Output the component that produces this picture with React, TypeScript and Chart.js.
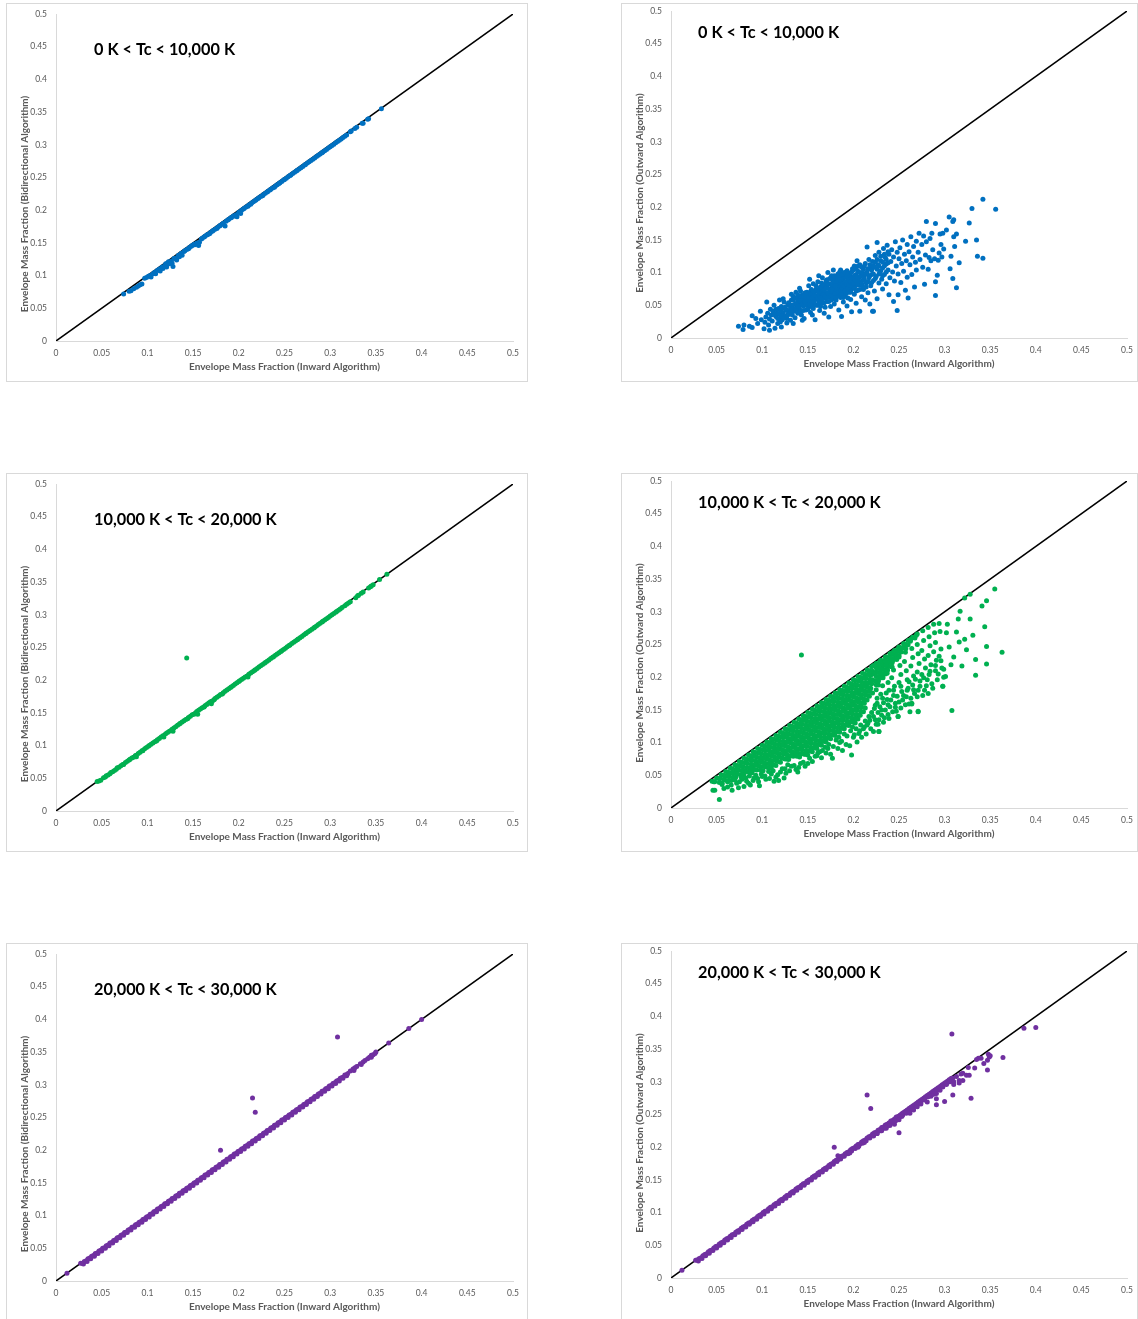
import React, { useEffect, useRef } from "react";
import { Chart, registerables } from "chart.js";

Chart.register(...registerables);

const FONT = "Lato, 'Open Sans', 'Liberation Sans', sans-serif";

// ---------- axis / text content ----------
const AXIS_MIN = 0;
const AXIS_MAX = 0.5;
const AXIS_STEP = 0.05;
const DIAGONAL = [0, 0, 0.5, 0.5];
const TITLE_X = "Envelope Mass Fraction (Inward Algorithm)";
const TITLE_Y_BIDIR = "Envelope Mass Fraction (Bidirectional Algorithm)";
const TITLE_Y_OUT = "Envelope Mass Fraction (Outward Algorithm)";
const RANGE_LABELS = ["0 K < Tc < 10,000 K", "10,000 K < Tc < 20,000 K", "20,000 K < Tc < 30,000 K"];
const SERIES_COLORS = ["#0070C0", "#00B050", "#7030A0"];

// ---------- data: flat [x, y, x, y, ...] pairs ----------
// 0 K < Tc < 10,000 K : inward vs bidirectional
const BLUE_BIDIR = [
  .074,.072, .080,.076, .082,.077, .085,.080, .088,.082, .090,.084, .092,.086, .094,.087, .097,.096, .099,.097,
  .101,.099, .103,.100, .104,.098, .106,.103, .108,.105, .109,.103, .111,.108, .113,.110, .114,.107, .116,.113,
  .117,.111, .119,.115, .120,.118, .121,.113, .123,.121, .124,.118, .126,.122, .127,.119, .128,.114, .129,.126,
  .131,.127, .132,.124, .134,.131, .135,.129, .137,.134, .138,.131, .140,.137, .141,.138, .143,.140, .145,.141,
  .146,.143, .148,.145, .149,.146, .151,.148, .152,.147, .154,.150, .155,.149, .157,.151, .156,.146, .159,.156,
  .160,.157, .162,.159, .163,.160, .165,.162, .166,.163, .168,.164, .169,.166, .171,.168, .172,.169, .174,.171,
  .176,.172, .177,.174, .179,.176, .180,.177, .182,.179, .183,.180, .185,.176, .186,.183, .188,.185, .189,.186,
  .191,.188, .192,.189, .194,.191, .195,.191, .197,.193, .198,.190, .200,.197, .201,.197, .203,.200, .202,.195,
  .205,.202, .206,.203, .208,.205, .210,.206, .211,.208, .213,.209, .214,.211, .216,.213, .218,.215, .219,.216,
  .221,.218, .222,.219, .224,.221, .226,.222, .227,.224, .229,.226, .231,.228, .232,.229, .234,.231, .235,.232,
  .237,.234, .239,.235, .240,.237, .242,.239, .244,.241, .245,.242, .247,.244, .249,.246, .250,.247, .252,.249,
  .254,.251, .256,.253, .257,.254, .259,.256, .261,.258, .263,.260, .264,.261, .266,.263, .268,.265, .270,.267,
  .272,.269, .273,.270, .275,.272, .277,.274, .279,.276, .281,.278, .283,.280, .285,.282, .287,.284, .289,.286,
  .291,.288, .292,.289, .294,.291, .296,.293, .298,.295, .300,.297, .302,.299, .304,.301, .306,.303, .308,.305,
  .310,.307, .312,.309, .314,.311, .316,.313, .318,.315, .322,.320, .323,.321, .327,.325, .329,.327, .335,.333,
  .336,.333, .341,.339, .342,.340, .356,.355,
];

// 0 K < Tc < 10,000 K : inward vs outward
const BLUE_OUT = [
  .074,.018, .079,.013, .080,.020, .086,.018, .089,.016, .089,.034, .093,.030, .098,.041, .095,.022, .099,.028,
  .102,.014, .103,.024, .104,.032, .105,.055, .106,.038, .107,.020, .108,.029, .109,.044, .110,.035, .108,.012,
  .111,.026, .112,.041, .113,.050, .114,.015, .115,.033, .116,.038, .117,.022, .118,.045, .119,.058, .119,.030, .113,.036,
  .121,.017, .121,.048, .122,.028, .123,.039, .124,.055, .125,.034, .126,.044, .127,.023, .128,.051, .129,.037, .123,.060, .127,.030, .120,.042,
  .131,.046, .131,.027, .132,.058, .133,.035, .134,.064, .135,.041, .136,.052, .136,.031, .137,.070, .138,.047, .139,.057, .139,.038, .134,.022, .132,.067,
  .140,.062, .141,.044, .142,.053, .142,.072, .143,.035, .144,.066, .145,.049, .146,.030, .146,.058, .147,.069, .148,.043, .148,.061, .149,.052, .144,.027, .141,.076,
  .150,.065, .151,.048, .151,.080, .152,.057, .153,.039, .153,.071, .154,.062, .155,.052, .156,.083, .156,.045, .157,.068, .158,.028, .158,.059, .159,.074, .155,.035, .152,.090,
  .160,.064, .161,.050, .161,.086, .162,.071, .163,.042, .163,.058, .164,.078, .165,.066, .166,.053, .166,.092, .167,.073, .168,.061, .168,.038, .169,.082, .169,.047, .162,.095,
  .170,.069, .171,.056, .171,.089, .172,.076, .173,.032, .173,.063, .174,.083, .175,.070, .175,.048, .176,.095, .177,.060, .177,.078, .178,.087, .179,.066, .179,.052, .172,.100, .178,.104,
  .180,.073, .181,.090, .181,.058, .182,.081, .183,.067, .183,.098, .184,.043, .184,.075, .185,.086, .186,.062, .186,.104, .187,.033, .187,.079, .188,.092, .189,.070, .189,.055, .185,.101,
  .190,.085, .191,.096, .191,.064, .192,.077, .193,.103, .193,.049, .194,.088, .195,.070, .195,.099, .196,.082, .197,.059, .197,.093, .198,.040, .198,.075, .199,.106, .199,.087,
  .200,.091, .201,.067, .201,.110, .202,.080, .203,.097, .203,.053, .204,.086, .205,.102, .205,.073, .206,.093, .207,.041, .207,.112, .208,.081, .209,.098, .209,.063, .204,.118,
  .210,.088, .211,.105, .211,.074, .212,.095, .213,.058, .213,.114, .214,.084, .215,.139, .215,.101, .216,.069, .217,.092, .217,.120, .218,.052, .219,.106, .219,.080, .221,.041,
  .220,.097, .221,.117, .222,.088, .223,.072, .223,.108, .224,.126, .225,.094, .226,.146, .226,.060, .227,.112, .228,.084, .228,.131, .229,.101, .222,.041,
  .230,.118, .231,.090, .232,.075, .232,.107, .233,.137, .234,.097, .235,.123, .236,.083, .236,.113, .237,.142, .238,.104, .239,.066, .239,.128,
  .240,.092, .241,.117, .242,.135, .243,.101, .244,.056, .244,.124, .245,.087, .246,.147, .247,.110, .248,.042, .248,.131, .249,.066, .249,.098,
  .250,.121, .251,.138, .252,.085, .253,.114, .254,.150, .255,.102, .256,.128, .257,.073, .258,.118, .259,.143, .260,.061, .259,.093,
  .261,.132, .262,.112, .263,.155, .264,.097, .265,.124, .266,.140, .267,.078, .268,.116, .269,.148, .269,.104,
  .271,.131, .272,.160, .273,.120, .275,.143, .276,.108, .277,.156, .278,.082, .279,.127, .280,.178, .280,.147,
  .282,.105, .283,.123, .284,.152, .285,.118, .286,.160, .287,.135, .289,.121, .290,.065, .290,.086, .290,.175,
  .292,.096, .293,.119, .294,.130, .295,.159, .296,.143, .297,.124, .298,.160, .299,.136,
  .302,.165, .305,.185, .306,.106, .307,.125, .309,.178, .309,.091, .310,.181, .310,.155, .311,.140, .313,.159,
  .313,.077, .316,.115, .323,.148, .327,.176, .330,.198, .335,.150, .336,.125, .342,.212, .342,.122, .356,.197,
];

// 0 K < Tc < 10,000 K : inward vs outward (denser middle of the cloud)
const BLUE_OUT_CORE = [
  .115,.044, .117,.030, .118,.037, .120,.025, .121,.034, .122,.046, .124,.031,
  .125,.047, .127,.042, .129,.054, .131,.040, .133,.050, .135,.045, .128,.035, .134,.058,
  .136,.061, .137,.044, .138,.053, .139,.066, .140,.049, .141,.057, .142,.040, .143,.063, .144,.052, .145,.058, .145,.042,
  .146,.064, .147,.055, .148,.050, .149,.070, .150,.058, .150,.044, .151,.063, .152,.051, .153,.066, .154,.056, .154,.074, .155,.061, .155,.047,
  .156,.071, .157,.056, .158,.065, .159,.050, .159,.080, .160,.072, .161,.060, .162,.066, .162,.054, .163,.076, .164,.062, .164,.048, .165,.070, .165,.084,
  .166,.060, .167,.067, .167,.080, .168,.054, .168,.073, .169,.064, .170,.077, .170,.087, .171,.062, .172,.069, .172,.083, .173,.056, .174,.074, .174,.091, .175,.065,
  .176,.081, .176,.058, .177,.071, .177,.089, .178,.064, .178,.076, .179,.084, .179,.095, .180,.068, .180,.080, .181,.062, .182,.074, .182,.087, .183,.093, .184,.070, .184,.081, .185,.064, .185,.078,
  .186,.088, .186,.073, .187,.096, .187,.066, .188,.082, .188,.076, .189,.091, .189,.062, .190,.079, .190,.100, .191,.072, .191,.086, .192,.093, .192,.068, .193,.082, .193,.095, .194,.076, .194,.061, .195,.089, .195,.081,
  .196,.074, .196,.097, .197,.086, .197,.070, .198,.091, .198,.101, .199,.079, .200,.084, .200,.104, .201,.076, .201,.095, .202,.088, .203,.072, .203,.106, .204,.093, .205,.081, .205,.110, .206,.087, .207,.100, .207,.074, .208,.094, .209,.108, .209,.083, .210,.100, .210,.079,
  .212,.090, .212,.110, .214,.098, .214,.078, .216,.106, .216,.086, .218,.112, .218,.095, .220,.104, .220,.085, .222,.110, .222,.098, .224,.116, .224,.091, .226,.105, .226,.120,
  .228,.098, .228,.110, .230,.125, .230,.103, .232,.116, .232,.095, .234,.128, .234,.110, .236,.120, .236,.101, .238,.132, .238,.115,
];

// 10,000 K < Tc < 20,000 K : inward vs bidirectional
const GREEN_BIDIR = [
  .045,.045, .047,.046, .049,.047, .052,.051, .054,.052, .055,.054, .057,.055, .059,.057, .060,.059, .062,.060,
  .064,.062, .066,.064, .067,.066, .069,.067, .071,.069, .073,.071, .074,.071, .076,.074, .078,.076, .080,.078,
  .081,.079, .083,.081, .085,.082, .087,.085, .088,.083, .090,.088, .092,.090, .094,.092, .095,.092, .097,.095,
  .099,.097, .101,.099, .102,.100, .104,.102, .106,.104, .108,.106, .110,.107, .111,.109, .113,.111, .115,.113,
  .117,.115, .118,.113, .120,.118, .122,.120, .124,.122, .126,.123, .127,.125, .129,.127, .128,.122, .131,.129,
  .133,.131, .135,.133, .136,.134, .138,.136, .140,.138, .142,.140, .144,.141, .145,.143, .147,.145, .149,.147,
  .151,.148, .153,.150, .155,.148, .154,.152, .156,.154, .158,.156, .160,.158, .162,.159, .163,.161, .165,.163,
  .167,.165, .169,.167, .170,.164, .171,.168, .173,.170, .174,.172, .176,.174, .178,.176, .180,.178, .182,.179,
  .183,.181, .185,.183, .187,.185, .189,.187, .191,.189, .192,.190, .194,.192, .196,.194, .198,.196, .200,.198,
  .201,.199, .203,.201, .205,.203, .207,.205, .209,.206, .210,.205, .211,.209, .213,.211, .215,.213, .217,.215,
  .218,.216, .220,.218, .222,.220, .224,.222, .226,.224, .228,.226, .229,.227, .231,.229, .233,.231, .235,.233,
  .237,.235, .238,.236, .240,.238, .242,.240, .244,.242, .246,.244, .247,.245, .249,.247, .251,.249, .253,.251,
  .255,.253, .256,.254, .258,.256, .260,.258, .262,.260, .264,.262, .265,.263, .267,.265, .269,.267, .271,.269,
  .273,.271, .274,.272, .276,.274, .278,.276, .280,.278, .282,.280, .283,.281, .285,.283, .287,.285, .289,.287,
  .291,.289, .292,.290, .294,.292, .296,.294, .298,.296, .300,.298, .302,.300, .304,.302, .306,.304, .307,.305,
  .309,.307, .311,.309, .313,.311, .316,.314, .318,.316, .320,.318, .322,.320, .328,.326, .330,.329, .331,.330,
  .334,.333, .336,.335, .342,.341, .344,.343, .345,.344, .347,.346, .354,.354, .362,.362, .143,.234,
];

// 10,000 K < Tc < 20,000 K : inward vs outward (dense core near the diagonal)
const GREEN_OUT_CORE = [
  .050,.046, .048,.040,
  .055,.051, .054,.045, .056,.038,
  .060,.056, .061,.049, .059,.043,
  .065,.061, .066,.054, .064,.048, .066,.042,
  .070,.066, .071,.059, .069,.053, .071,.047,
  .075,.071, .076,.064, .074,.058, .076,.051,
  .080,.076, .081,.069, .079,.063, .081,.057, .080,.051,
  .085,.081, .086,.074, .084,.068, .086,.061, .085,.055,
  .090,.086, .091,.079, .089,.073, .091,.066, .090,.060, .089,.054,
  .095,.091, .096,.084, .094,.078, .096,.071, .095,.065, .094,.058,
  .100,.096, .101,.089, .099,.083, .101,.076, .100,.070, .099,.063, .101,.057,
  .105,.101, .106,.094, .104,.088, .106,.081, .105,.075, .104,.068, .106,.062,
  .110,.106, .111,.099, .109,.093, .111,.086, .110,.080, .109,.073, .111,.067, .110,.061,
  .115,.111, .116,.104, .114,.098, .116,.091, .115,.085, .114,.078, .116,.072, .115,.065,
  .120,.116, .121,.109, .119,.103, .121,.096, .120,.090, .119,.083, .121,.077, .120,.070,
  .125,.121, .126,.114, .124,.108, .126,.101, .125,.095, .124,.088, .126,.082, .125,.075,
  .130,.126, .131,.119, .129,.113, .131,.106, .130,.100, .129,.093, .131,.087, .130,.080, .129,.074,
  .135,.131, .136,.124, .134,.118, .136,.111, .135,.105, .134,.098, .136,.092, .135,.085, .134,.079,
  .140,.136, .141,.129, .139,.123, .141,.116, .140,.110, .139,.103, .141,.097, .140,.090, .139,.084, .141,.078,
  .145,.141, .146,.134, .144,.128, .146,.121, .145,.115, .144,.108, .146,.102, .145,.095, .144,.089, .146,.082,
  .150,.146, .151,.139, .149,.133, .151,.126, .150,.120, .149,.113, .151,.107, .150,.100, .149,.094, .151,.087, .150,.081,
  .155,.151, .156,.144, .154,.138, .156,.131, .155,.125, .154,.118, .156,.112, .155,.105, .154,.099, .156,.092, .155,.086,
  .160,.156, .161,.149, .159,.143, .161,.136, .160,.130, .159,.123, .161,.117, .160,.110, .159,.104, .161,.097, .160,.091,
  .165,.161, .166,.154, .164,.148, .166,.141, .165,.135, .164,.128, .166,.122, .165,.115, .164,.109, .166,.102, .165,.096,
  .170,.166, .171,.159, .169,.153, .171,.146, .170,.140, .169,.133, .171,.127, .170,.120, .169,.114, .171,.107, .170,.101,
  .175,.171, .176,.164, .174,.158, .176,.151, .175,.145, .174,.138, .176,.132, .175,.125, .174,.119, .176,.112, .175,.106,
  .180,.176, .181,.169, .179,.163, .181,.156, .180,.150, .179,.143, .181,.137, .180,.130, .179,.124, .181,.117, .180,.111,
  .185,.181, .186,.174, .184,.168, .186,.161, .185,.155, .184,.148, .186,.142, .185,.135, .184,.129, .186,.122, .185,.116,
  .190,.186, .191,.179, .189,.173, .191,.166, .190,.160, .189,.153, .191,.147, .190,.140, .189,.134, .191,.127, .190,.121,
  .195,.191, .196,.184, .194,.178, .196,.171, .195,.165, .194,.158, .196,.152, .195,.145, .194,.139, .196,.132, .195,.126,
  .200,.196, .201,.189, .199,.183, .201,.176, .200,.170, .199,.163, .201,.157, .200,.150, .199,.144, .201,.137, .200,.131, .199,.124,
  .205,.201, .206,.194, .204,.188, .206,.181, .205,.175, .204,.168, .206,.162, .205,.155, .204,.149, .206,.142, .205,.136,
  .210,.206, .211,.199, .209,.193, .211,.186, .210,.180, .209,.173, .211,.167, .210,.160, .209,.154, .211,.147,
  .215,.211, .216,.204, .214,.198, .216,.191, .215,.185, .214,.178, .216,.172, .215,.165,
  .220,.216, .221,.209, .219,.203, .221,.196, .220,.190, .219,.183, .221,.176,
];

// 10,000 K < Tc < 20,000 K : inward vs outward (core, in-between points)
const GREEN_OUT_CORE_B = [
  .0525,.045, .0530,.039,
  .0575,.050, .0580,.044,
  .0625,.055, .0620,.049, .0630,.042,
  .0675,.060, .0670,.054, .0680,.047,
  .0725,.065, .0720,.059, .0730,.052,
  .0775,.070, .0770,.064, .0780,.057, .0775,.051,
  .0825,.075, .0820,.069, .0830,.062, .0825,.056,
  .0875,.080, .0870,.074, .0880,.067, .0875,.061, .0870,.055,
  .0925,.085, .0920,.079, .0930,.072, .0925,.066, .0920,.059,
  .0975,.090, .0970,.084, .0980,.077, .0975,.071, .0970,.064, .0980,.058,
  .1025,.095, .1020,.089, .1030,.082, .1025,.076, .1020,.069, .1030,.063,
  .1075,.100, .1070,.094, .1080,.087, .1075,.081, .1070,.074, .1080,.068, .1075,.062,
  .1125,.105, .1120,.099, .1130,.092, .1125,.086, .1120,.079, .1130,.073, .1125,.066,
  .1175,.110, .1170,.104, .1180,.097, .1175,.091, .1170,.084, .1180,.078, .1175,.071,
  .1225,.115, .1220,.109, .1230,.102, .1225,.096, .1220,.089, .1230,.083, .1225,.076,
  .1275,.120, .1270,.114, .1280,.107, .1275,.101, .1270,.094, .1280,.088, .1275,.081, .1270,.075,
  .1325,.125, .1320,.119, .1330,.112, .1325,.106, .1320,.099, .1330,.093, .1325,.086, .1320,.080,
  .1375,.130, .1370,.124, .1380,.117, .1375,.111, .1370,.104, .1380,.098, .1375,.091, .1370,.085, .1380,.079,
  .1425,.135, .1420,.129, .1430,.122, .1425,.116, .1420,.109, .1430,.103, .1425,.096, .1420,.090, .1430,.083,
  .1475,.140, .1470,.134, .1480,.127, .1475,.121, .1470,.114, .1480,.108, .1475,.101, .1470,.095, .1480,.088, .1475,.082,
  .1525,.145, .1520,.139, .1530,.132, .1525,.126, .1520,.119, .1530,.113, .1525,.106, .1520,.100, .1530,.093, .1525,.087,
  .1575,.150, .1570,.144, .1580,.137, .1575,.131, .1570,.124, .1580,.118, .1575,.111, .1570,.105, .1580,.098, .1575,.092,
  .1625,.155, .1620,.149, .1630,.142, .1625,.136, .1620,.129, .1630,.123, .1625,.116, .1620,.110, .1630,.103, .1625,.097,
  .1675,.160, .1670,.154, .1680,.147, .1675,.141, .1670,.134, .1680,.128, .1675,.121, .1670,.115, .1680,.108, .1675,.102,
  .1725,.165, .1720,.159, .1730,.152, .1725,.146, .1720,.139, .1730,.133, .1725,.126, .1720,.120, .1730,.113, .1725,.107,
  .1775,.170, .1770,.164, .1780,.157, .1775,.151, .1770,.144, .1780,.138, .1775,.131, .1770,.125, .1780,.118, .1775,.112,
  .1825,.175, .1820,.169, .1830,.162, .1825,.156, .1820,.149, .1830,.143, .1825,.136, .1820,.130, .1830,.123, .1825,.117,
  .1875,.180, .1870,.174, .1880,.167, .1875,.161, .1870,.154, .1880,.148, .1875,.141, .1870,.135, .1880,.128, .1875,.122,
  .1925,.185, .1920,.179, .1930,.172, .1925,.166, .1920,.159, .1930,.153, .1925,.146, .1920,.140, .1930,.133, .1925,.127,
  .1975,.190, .1970,.184, .1980,.177, .1975,.171, .1970,.164, .1980,.158, .1975,.151, .1970,.145, .1980,.138, .1975,.132,
  .2025,.195, .2020,.189, .2030,.182, .2025,.176, .2020,.169, .2030,.163, .2025,.156, .2020,.150, .2030,.143, .2025,.137, .2020,.130,
  .2075,.200, .2070,.194, .2080,.187, .2075,.181, .2070,.174, .2080,.168, .2075,.161, .2070,.155, .2080,.148, .2075,.142,
  .2125,.205, .2120,.199, .2130,.192, .2125,.186, .2120,.179, .2130,.173, .2125,.166, .2120,.160, .2130,.153,
  .2175,.210, .2170,.204, .2180,.197, .2175,.191, .2170,.184, .2180,.178, .2175,.171,
];

// 10,000 K < Tc < 20,000 K : inward vs outward (dense band continuing up the diagonal)
const GREEN_OUT_UPPER = [
  .2250,.221, .2250,.2145, .2250,.208, .2250,.2015, .2250,.195, .2250,.1885,
  .2275,.220, .2275,.214, .2275,.207, .2275,.2005, .2275,.194, .2275,.188,
  .2300,.226, .2300,.2195, .2300,.213, .2300,.2065, .2300,.200,
  .2325,.225, .2325,.2185, .2325,.212, .2325,.2055, .2325,.199,
  .2350,.231, .2350,.2245, .2350,.218, .2350,.2115, .2350,.205,
  .2375,.230, .2375,.2235, .2375,.217, .2375,.2105,
  .2400,.236, .2400,.2295, .2400,.223, .2400,.2165,
  .2425,.235, .2425,.2285, .2425,.222, .2425,.2155,
  .2450,.241, .2450,.2345, .2450,.228,
  .2475,.240, .2475,.2335, .2475,.227,
  .2500,.246, .2500,.2395, .2500,.233,
  .2525,.245, .2525,.2385,
  .2550,.251, .2550,.2445,
  .2575,.250, .2575,.2435,
  .2600,.256, .2600,.2495,
  .2625,.255, .2650,.261, .2675,.260, .2700,.266,
];

// 10,000 K < Tc < 20,000 K : inward vs outward (scattered points)
const GREEN_OUT_SPREAD = [
  .053,.013, .046,.027, .048,.027, .067,.027, .047,.040, .056,.036, .080,.033, .062,.032, .072,.038, .085,.038,
  .090,.042, .095,.045, .100,.048, .104,.044, .110,.052, .115,.047, .120,.055, .118,.042, .125,.060, .130,.057,
  .135,.065, .140,.062, .145,.070, .150,.068, .155,.071, .160,.080, .165,.077, .170,.084, .175,.082, .177,.076,
  .183,.091, .188,.088, .192,.097, .196,.095, .198,.081, .107,.056, .128,.066, .093,.050, .078,.044, .086,.049,
  .152,.076, .163,.086, .172,.091, .185,.100, .058,.030, .082,.046, .075,.040, .045,.041,
  .062,.040, .066,.035, .070,.043, .074,.031, .077,.047, .083,.041, .087,.035, .091,.046, .096,.040, .099,.052,
  .103,.049, .108,.045, .112,.057, .117,.051, .122,.060, .126,.053, .132,.064, .137,.059, .142,.068, .147,.064,
  .113,.041, .097,.034, .124,.046, .139,.055,
  .158,.079, .161,.084, .166,.088, .169,.093, .173,.097, .178,.094, .181,.104, .184,.108, .187,.102, .190,.113,
  .193,.110, .197,.118, .200,.108, .203,.121, .206,.114, .208,.127, .211,.121, .213,.133, .215,.127, .217,.140,
  .218,.134, .220,.146, .222,.140, .223,.152, .225,.128, .226,.160, .228,.135, .229,.155, .231,.142, .232,.168,
  .233,.131, .235,.150, .236,.176, .238,.158, .239,.137, .241,.165, .243,.147, .244,.180, .246,.154, .248,.171,
  .250,.162, .252,.186, .255,.172, .257,.158, .259,.180, .261,.193, .263,.168, .266,.181, .268,.197, .270,.170,
  .273,.186, .275,.204, .278,.180, .281,.196, .284,.209, .287,.183, .290,.218, .293,.205, .296,.225, .299,.212,
  .201,.112, .204,.101, .207,.118, .209,.108, .212,.124, .214,.113, .216,.130, .219,.121, .222,.117, .224,.135,
  .227,.128, .228,.117,
  .222,.218, .223,.205, .224,.194, .225,.181, .226,.168, .224,.157, .227,.146,
  .229,.224, .230,.212, .231,.199, .232,.187, .230,.174, .233,.161, .231,.150, .234,.138,
  .236,.231, .236,.219, .237,.206, .238,.192, .239,.180, .237,.166, .240,.155, .238,.143,
  .242,.237, .243,.225, .244,.211, .242,.199, .245,.186, .244,.172, .246,.160, .247,.148, .249,.140,
  .249,.244, .250,.231, .251,.218, .252,.204, .250,.192, .253,.178, .254,.165, .252,.153,
  .256,.251, .257,.238, .256,.224, .258,.210, .259,.196, .260,.183, .258,.170, .261,.159, .262,.147,
  .263,.258, .264,.244, .265,.230, .263,.217, .266,.202, .265,.188, .267,.175, .264,.160,
  .269,.264, .270,.250, .271,.236, .272,.221, .270,.208, .273,.194, .271,.180, .271,.147,
  .276,.271, .277,.256, .275,.241, .278,.228, .279,.214, .277,.199, .280,.187, .276,.172,
  .282,.276, .283,.262, .284,.248, .282,.233, .285,.219, .283,.204, .286,.190, .282,.175,
  .288,.281, .289,.268, .290,.253, .288,.239, .291,.226, .290,.210, .292,.196,
  .294,.282, .295,.270, .296,.243, .294,.232, .297,.214, .298,.186, .299,.200,
  .355,.335, .328,.327, .322,.321, .346,.317, .341,.309, .317,.301, .315,.289, .328,.289, .344,.277, .303,.281,
  .302,.268, .313,.269, .331,.264, .322,.258, .316,.254, .324,.242, .346,.247, .363,.238, .305,.246, .310,.231,
  .334,.227, .346,.220, .319,.217, .307,.219, .334,.203, .301,.201, .298,.186, .308,.149, .271,.148, .264,.159,
  .249,.140, .228,.117, .143,.234,
];

// 20,000 K < Tc < 30,000 K : inward vs bidirectional
const PURPLE_BIDIR = [
  .012,.012,
  .027,.027, .029,.027, .031,.030, .033,.031, .035,.034, .037,.035, .039,.038, .041,.039, .043,.042, .045,.043,
  .047,.046, .049,.047, .051,.050, .053,.051, .055,.054, .057,.055, .059,.058, .061,.059, .063,.062, .065,.063,
  .067,.066, .069,.067, .071,.070, .073,.071, .075,.074, .077,.075, .079,.078, .081,.079, .083,.082, .085,.083,
  .087,.086, .089,.087, .091,.090, .093,.091, .095,.094, .097,.095, .099,.098, .101,.099, .103,.102, .105,.103,
  .107,.106, .109,.107, .111,.110, .113,.111, .115,.114, .117,.115, .119,.118, .121,.119, .123,.122, .125,.123,
  .127,.126, .129,.127, .131,.130, .133,.131, .135,.134, .137,.135, .139,.138, .141,.139, .143,.142, .145,.143,
  .147,.146, .149,.147, .151,.150, .153,.151, .155,.154, .157,.155, .159,.158, .161,.159, .163,.162, .165,.163,
  .167,.166, .169,.167, .171,.170, .173,.171, .175,.174, .177,.175, .179,.178, .181,.179, .183,.182, .185,.183,
  .187,.186, .189,.187, .191,.190, .193,.191, .195,.194, .197,.195, .199,.198, .201,.199, .203,.202, .205,.203,
  .207,.206, .209,.207, .211,.210, .213,.211, .215,.214, .217,.215, .219,.218, .221,.219, .223,.222, .225,.223,
  .227,.226, .229,.227, .231,.230, .233,.231, .235,.234, .237,.235, .239,.238, .241,.239, .243,.242, .245,.243,
  .247,.246, .249,.247, .251,.250, .253,.251, .255,.254, .257,.255, .259,.258, .261,.259, .263,.262, .265,.263,
  .267,.266, .269,.267, .271,.270, .273,.271, .275,.274, .277,.275, .279,.278, .281,.279, .283,.282, .285,.283,
  .287,.286, .289,.287, .291,.290, .293,.291, .295,.294, .297,.295, .299,.298, .301,.299, .303,.302, .305,.303,
  .307,.306, .309,.307, .311,.310, .313,.311, .316,.315, .319,.317, .322,.321, .325,.324, .327,.326, .329,.328,
  .333,.332, .336,.335, .338,.337, .341,.340, .343,.342, .345,.345, .347,.346, .349,.348, .350,.350, .364,.364,
  .386,.386, .400,.400, .180,.200, .215,.280, .218,.258, .308,.373,
];

// 20,000 K < Tc < 30,000 K : inward vs bidirectional (points just under the diagonal)
const PURPLE_BIDIR_LOW = [
  .030,.026, .034,.030, .038,.034, .042,.038, .046,.042, .050,.046, .054,.050, .058,.054, .062,.058, .066,.062,
  .070,.066, .074,.070, .078,.074, .082,.078, .086,.082, .090,.086, .094,.090, .098,.094, .102,.098, .106,.102,
  .110,.106, .114,.110, .118,.114, .122,.118, .126,.122, .130,.126, .134,.130, .138,.134, .142,.138, .146,.142,
  .150,.146, .154,.150, .158,.154, .162,.158, .166,.162, .170,.166, .174,.170, .178,.174, .182,.178, .186,.182,
  .190,.186, .194,.190, .198,.194, .202,.198, .206,.202, .210,.206, .214,.210, .218,.214, .222,.218, .226,.222,
  .230,.226, .234,.230, .238,.234, .242,.238, .246,.242, .250,.246, .254,.250, .258,.254, .262,.258, .266,.262,
  .270,.266, .274,.270, .278,.274, .282,.278, .286,.282, .290,.286, .294,.290, .298,.294, .302,.298, .306,.302,
  .310,.306, .314,.310, .318,.314, .326,.322, .334,.331, .345,.342,
];

// 20,000 K < Tc < 30,000 K : inward vs outward
const PURPLE_OUT = [
  .012,.012,
  .027,.027, .029,.028, .031,.030, .033,.031, .035,.034, .037,.036, .039,.037, .041,.040, .043,.042, .045,.043,
  .047,.046, .049,.048, .051,.049, .053,.052, .055,.054, .057,.055, .059,.058, .061,.060, .063,.061, .065,.064,
  .067,.066, .069,.067, .071,.070, .073,.072, .075,.073, .077,.076, .079,.078, .081,.079, .083,.082, .085,.084,
  .087,.085, .089,.088, .091,.090, .093,.091, .095,.094, .097,.096, .099,.097, .101,.100, .103,.102, .105,.103,
  .107,.106, .109,.108, .111,.109, .113,.112, .115,.114, .117,.115, .119,.118, .121,.120, .123,.121, .125,.124,
  .127,.126, .129,.127, .131,.130, .133,.132, .135,.133, .137,.136, .139,.138, .141,.139, .143,.142, .145,.144,
  .147,.145, .149,.148, .151,.150, .153,.151, .155,.154, .157,.156, .159,.157, .161,.160, .163,.162, .165,.163,
  .167,.166, .169,.168, .171,.169, .173,.172, .175,.174, .177,.175, .179,.178, .181,.180, .183,.181, .185,.184,
  .187,.186, .189,.187, .191,.190, .193,.192, .195,.193, .197,.196, .199,.198, .201,.199, .203,.202, .205,.204,
  .207,.205, .209,.208, .211,.210, .213,.211, .215,.214, .217,.216, .219,.217, .221,.220, .223,.222, .225,.223,
  .227,.226, .229,.227, .231,.230, .233,.231, .235,.234, .237,.235, .239,.237, .241,.240, .243,.241, .245,.243,
  .247,.246, .249,.247, .251,.249, .253,.251, .255,.253, .257,.255, .259,.257, .261,.259, .263,.261, .265,.263,
  .267,.265, .269,.267, .271,.269, .273,.271, .275,.273, .277,.275, .279,.277, .281,.279, .283,.281, .285,.283,
  .287,.285, .289,.287, .291,.289, .293,.291, .295,.293, .297,.295, .299,.297, .301,.299, .303,.301, .305,.303,
  .307,.305, .309,.306,
  .183,.187, .188,.186, .196,.191, .205,.200, .212,.207, .222,.217, .226,.221, .231,.225, .236,.229, .240,.233,
  .245,.235, .246,.240, .250,.242, .250,.222, .253,.247, .258,.254, .262,.252, .266,.257, .270,.262, .274,.266,
  .278,.272, .281,.269, .285,.278, .288,.281, .291,.282, .291,.274, .291,.265, .295,.287, .298,.293, .300,.270,
  .302,.297, .305,.300, .309,.280, .310,.300, .310,.296, .313,.308, .316,.302, .316,.298, .318,.312, .320,.313,
  .320,.302, .324,.310, .327,.310, .326,.322, .329,.275, .333,.321, .335,.334, .337,.336, .340,.336, .343,.328,
  .347,.333, .347,.318, .348,.342, .349,.338, .350,.340, .364,.337, .387,.382, .400,.383, .308,.373, .215,.280,
  .219,.259, .179,.200,
];

// 20,000 K < Tc < 30,000 K : inward vs outward (points just under the diagonal)
const PURPLE_OUT_LOW = [
  .030,.026, .034,.030, .038,.034, .042,.038, .046,.042, .050,.046, .054,.050, .058,.054, .062,.058, .066,.062,
  .070,.066, .074,.070, .078,.074, .082,.078, .086,.082, .090,.086, .094,.090, .098,.094, .102,.098, .106,.102,
  .110,.106, .114,.110, .118,.114, .122,.118, .126,.122, .130,.126, .134,.130, .138,.134, .142,.138, .146,.142,
  .150,.146, .154,.150, .158,.154, .162,.158, .166,.162, .170,.166, .174,.170, .178,.174, .182,.178, .186,.182,
  .190,.186, .194,.190, .198,.194, .202,.198, .206,.202, .210,.206, .214,.210, .218,.214, .222,.218, .226,.221,
  .230,.225, .234,.229, .238,.233, .242,.237, .246,.241, .250,.245, .254,.249, .258,.252, .262,.257, .266,.261,
  .270,.265, .274,.269, .278,.273, .282,.277, .286,.281, .290,.285, .294,.289, .298,.292, .302,.296, .306,.300,
];

// ---------- helpers ----------
type Pt = { x: number; y: number };
function toPoints(...arrays: number[][]): Pt[] {
  const out: Pt[] = [];
  for (const a of arrays) for (let i = 0; i + 1 < a.length; i += 2) out.push({ x: a[i], y: a[i + 1] });
  return out;
}
const fmtTick = (v: number | string) => String(Number(Number(v).toFixed(2)));

type Spec = {
  left: number; top: number; width: number; height: number;
  padTop: number; padRight: number; xAxisH: number; yAxisW: number;
  points: Pt[]; color: string; label: string; yTitle: string;
  labelDx: number; labelDy: number; yTitleDy: number;
};

// keep the scales from growing the layout for their own label overhang
const noScalePadding = (s: any) => {
  s.paddingTop = 0;
  s.paddingBottom = 0;
  s.paddingLeft = 0;
  s.paddingRight = 0;
};

function Panel({ spec }: { spec: Spec }) {
  const ref = useRef<HTMLCanvasElement | null>(null);
  useEffect(() => {
    const canvas = ref.current;
    if (!canvas) return;
    const overlay = {
      id: "overlay",
      afterDraw(chart: any) {
        const { ctx, chartArea: a } = chart;
        ctx.save();
        ctx.fillStyle = "#000000";
        ctx.font = `bold 16.3px ${FONT}`;
        ctx.textBaseline = "middle";
        ctx.textAlign = "left";
        ctx.fillText(spec.label, a.left + spec.labelDx, a.top + spec.labelDy);
        ctx.fillStyle = "#595959";
        ctx.font = `bold 10px ${FONT}`;
        ctx.textAlign = "center";
        ctx.fillText(TITLE_X, (a.left + a.right) / 2, a.bottom + 26);
        ctx.translate(a.left - 31, a.top + spec.yTitleDy);
        ctx.rotate(-Math.PI / 2);
        ctx.fillText(spec.yTitle, 0, 0);
        ctx.restore();
      },
    };
    const axisCommon = {
      type: "linear" as const,
      min: AXIS_MIN,
      max: AXIS_MAX,
      grid: { display: false, drawTicks: false, tickLength: 0 },
      border: { display: true, color: "#d9d9d9", width: 1 },
    };
    const chart = new Chart(canvas, {
      type: "scatter",
      data: {
        datasets: [
          {
            data: spec.points,
            pointRadius: 2.5,
            pointHoverRadius: 2.5,
            pointBorderWidth: 0,
            pointBackgroundColor: spec.color,
            backgroundColor: spec.color,
            borderColor: spec.color,
            order: 0,
          },
          {
            data: toPoints(DIAGONAL),
            showLine: true,
            borderColor: "#000000",
            borderWidth: 1.5,
            pointRadius: 0,
            order: 1,
          },
        ],
      },
      options: {
        responsive: false,
        animation: false,
        events: [],
        layout: { padding: { top: spec.padTop, right: spec.padRight, left: 0, bottom: 0 } },
        plugins: { legend: { display: false }, tooltip: { enabled: false } },
        scales: {
          x: {
            ...axisCommon,
            ticks: {
              stepSize: AXIS_STEP, padding: 7, color: "#595959", autoSkip: false, maxRotation: 0,
              font: { family: FONT, size: 8.5 }, callback: (v: any) => fmtTick(v),
            },
            afterFit: (s: any) => { s.height = spec.xAxisH; noScalePadding(s); },
          },
          y: {
            ...axisCommon,
            ticks: {
              stepSize: AXIS_STEP, padding: 9, color: "#595959", autoSkip: false,
              font: { family: FONT, size: 8.5 }, callback: (v: any) => fmtTick(v),
            },
            afterFit: (s: any) => { s.width = spec.yAxisW; noScalePadding(s); },
          },
        },
      } as any,
      plugins: [overlay],
    });
    return () => chart.destroy();
  }, [spec]);
  return (
    <div
      style={{
        position: "absolute", left: spec.left, top: spec.top, width: spec.width, height: spec.height,
        border: "1px solid #d9d9d9", boxSizing: "border-box", background: "#ffffff",
      }}
    >
      <canvas ref={ref} width={spec.width - 2} height={spec.height - 2} style={{ display: "block" }} />
    </div>
  );
}

const ROW_TOPS = [3, 473, 943];
const LEFT_SERIES = [
  toPoints(BLUE_BIDIR),
  toPoints(GREEN_BIDIR),
  toPoints(PURPLE_BIDIR_LOW, PURPLE_BIDIR),
];
const RIGHT_SERIES = [
  toPoints(BLUE_OUT, BLUE_OUT_CORE),
  toPoints(GREEN_OUT_CORE, GREEN_OUT_CORE_B, GREEN_OUT_UPPER, GREEN_OUT_SPREAD),
  toPoints(PURPLE_OUT_LOW, PURPLE_OUT),
];

const SPECS: Spec[] = [];
ROW_TOPS.forEach((top, i) => {
  SPECS.push({
    left: 6, top, width: 522, height: 379, padTop: 10, padRight: 14, xAxisH: 40, yAxisW: 49,
    points: LEFT_SERIES[i], color: SERIES_COLORS[i], label: RANGE_LABELS[i], yTitle: TITLE_Y_BIDIR,
    labelDx: 38, labelDy: 36, yTitleDy: 190,
  });
  SPECS.push({
    left: 621, top, width: 517, height: 379, padTop: 7, padRight: 10, xAxisH: 43, yAxisW: 49,
    points: RIGHT_SERIES[i], color: SERIES_COLORS[i], label: RANGE_LABELS[i], yTitle: TITLE_Y_OUT,
    labelDx: 27, labelDy: 22, yTitleDy: 182,
  });
});

export default function App() {
  return (
    <div
      style={{
        position: "absolute", left: 0, top: 0, width: 1138, height: 1319,
        overflow: "hidden", background: "#ffffff",
      }}
    >
      {SPECS.map((s, i) => (
        <Panel key={i} spec={s} />
      ))}
    </div>
  );
}
